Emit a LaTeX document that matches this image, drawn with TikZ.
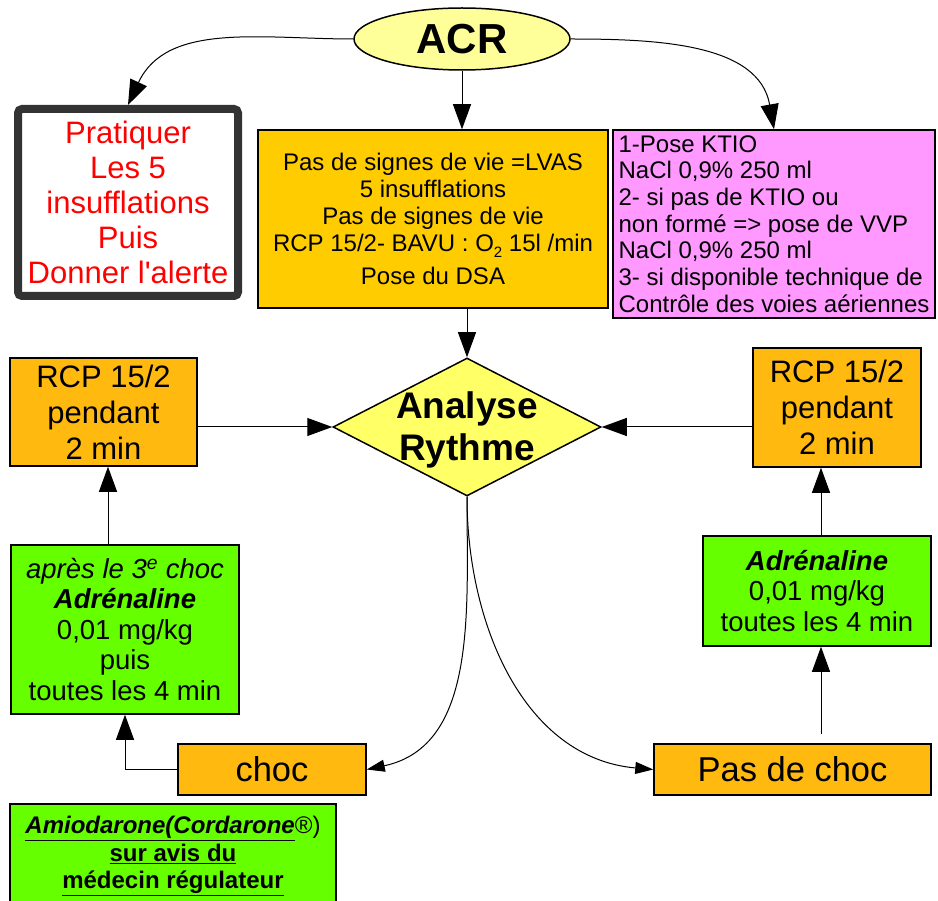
\documentclass[tikz,border=0pt]{standalone}
\usepackage{fontspec}
\setmainfont{Liberation Sans}
\usepackage{xcolor}
\usepackage{tikz}
\usetikzlibrary{arrows.meta,positioning,shapes.geometric}
\definecolor{acrfill}{HTML}{FFFF99}
\definecolor{losfill}{HTML}{FFFF66}
\definecolor{gold}{HTML}{FFCC00}
\definecolor{amber}{HTML}{FFB90F}
\definecolor{rose}{HTML}{FF99FF}
\definecolor{vert}{HTML}{66FF00}
\definecolor{cadre}{HTML}{333333}
\tikzstyle{box} = [rectangle, draw=black, line width=1.5pt, align=center, inner sep=2pt]
\tikzstyle{rcp} = [box, fill=amber, font=\fontsize{31}{36}\selectfont]
\tikzstyle{adr} = [box, fill=vert, font=\fontsize{27.5}{30.5}\selectfont]
\tikzstyle{choix} = [box, fill=amber, font=\fontsize{34.5}{40}\selectfont]
\tikzstyle{arrow} = [-{Triangle[length=25pt, width=18pt]}, line width=1pt]
\tikzstyle{smallarrow} = [-{Triangle[length=18pt, width=12pt]}, line width=1pt]

\begin{document}
\begin{tikzpicture}[x=1pt, y=-1pt]
\useasboundingbox (0,0) rectangle (938,901);
\node[ellipse, draw=black, line width=1.5pt, fill=acrfill, minimum width=216, minimum height=62, inner sep=0pt, font=\fontsize{42}{48}\selectfont\bfseries] (acr) at (462,39) {ACR};
\node[rectangle, rounded corners=4pt, draw=cadre, line width=8pt, fill=white, minimum width=220, minimum height=187, align=center, inner sep=0pt, text=red, font=\fontsize{31}{35}\selectfont] (alerte) at (128,202.5) {Pratiquer\\Les 5\\insufflations\\Puis\\Donner l\textquotesingle alerte};
\node[box, fill=gold, minimum width=350, minimum height=178, font=\fontsize{24}{27}\selectfont] (lvas) at (433,219) {Pas de signes de vie =LVAS\\5 insufflations\\Pas de signes de vie\\RCP 15/2- BAVU : O\raisebox{-0.45ex}{\fontsize{15}{15}\selectfont 2} 15l /min\\[6pt]Pose du DSA};
\node[box, fill=rose, minimum width=322, minimum height=188, align=left, font=\fontsize{24}{26.7}\selectfont] (ktio) at (774,224) {1-Pose KTIO\\NaCl 0,9\% 250 ml\\2- si pas de KTIO ou\\non formé => pose de VVP\\NaCl 0,9\% 250 ml\\3- si disponible technique de\\Contrôle des voies aériennes};
\node[diamond, draw=black, line width=1.5pt, fill=losfill, minimum width=268, minimum height=138, inner sep=0pt, label={[align=center, yshift=-3pt, font=\fontsize{37}{42}\selectfont\bfseries]center:Analyse\\Rythme}] (rythme) at (467,427) {};
\node[rcp, minimum width=187, minimum height=108] (rcpg) at (103.5,412) {RCP 15/2\\pendant\\2 min};
\node[rcp, minimum width=168, minimum height=119] (rcpd) at (837,407.5) {RCP 15/2\\pendant\\2 min};
\node[adr, minimum width=228, minimum height=169] (adrg) at (125,629.5) {\textit{après le 3\textsuperscript{e} choc}\\\textbf{\textit{Adrénaline}}\\0,01 mg/kg\\puis\\toutes les 4 min};
\node[adr, minimum width=228, minimum height=110] (adrd) at (817,591) {\textbf{\textit{Adrénaline}}\\0,01 mg/kg\\toutes les 4 min};
\node[choix, minimum width=188, minimum height=51] (choc) at (272,769.5) {choc};
\node[choix, minimum width=277, minimum height=51] (paschoc) at (792.5,769.5) {Pas de choc};
\node[box, fill=vert, minimum width=326, minimum height=104, font=\fontsize{24}{27.5}\selectfont] (amio) at (173,856) {\underline{\textbf{\textit{Amiodarone(Cordarone}}}®)\\\underline{\textbf{sur avis du}}\\\underline{\textbf{médecin régulateur}}};

\draw[arrow] (acr.west) to[out=180, in=65] (alerte.north);
\draw[arrow] (acr.south) -- (acr.south |- lvas.north);
\draw[arrow] (acr.east) to[out=0, in=100] (ktio.north);
\draw[arrow] (lvas.south -| rythme.north) -- (rythme.north);
\draw[arrow] (rcpg.east |- rythme.west) -- (rythme.west);
\draw[arrow] (rcpd.west |- rythme.east) -- (rythme.east);
\draw[smallarrow] (rythme.south) to[out=-90, in=12] (choc.east);
\draw[smallarrow] (rythme.south) to[out=-90, in=175] (paschoc.west);
\draw[arrow, shorten <=9pt] (paschoc.north -| 821,0) -- (adrd.south -| 821,0);
\draw[arrow] (adrd.north -| 821,0) -- (rcpd.south -| 821,0);
\draw[arrow] (choc.west) -| (adrg.south);
\draw[arrow] (adrg.north -| 108,0) -- (rcpg.south -| 108,0);
\end{tikzpicture}
\end{document}
